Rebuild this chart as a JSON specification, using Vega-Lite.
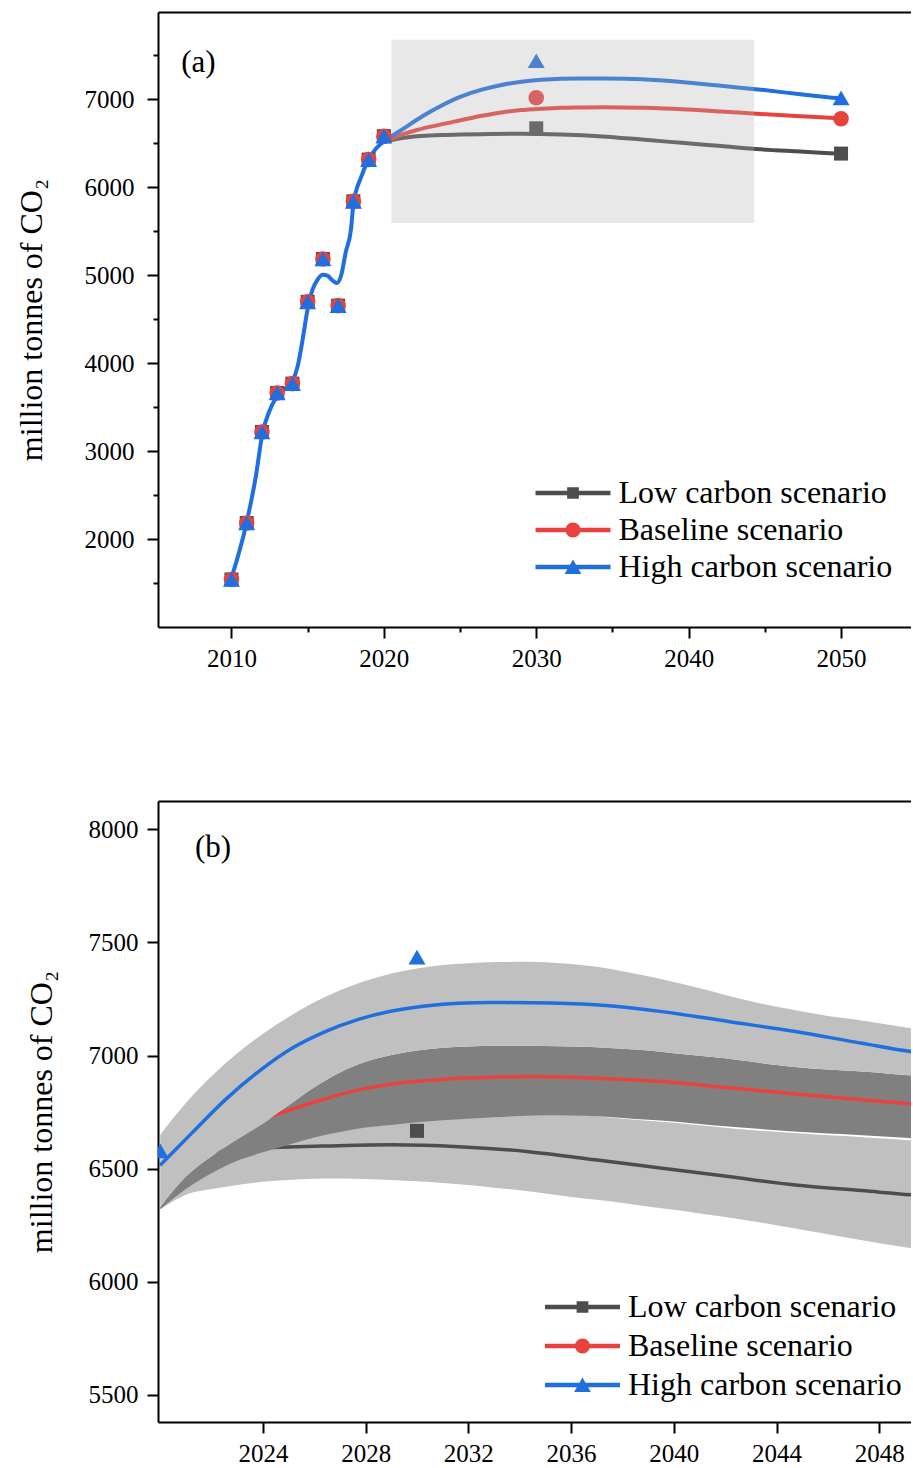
{
  "$schema": "https://vega.github.io/schema/vega-lite/v6.json",
  "padding": {"left": 15, "top": 12, "right": 0, "bottom": 0},
  "spacing": 130,
  "resolve": {"scale": {"color": "independent", "shape": "independent", "size": "independent"}},
  "config": {
    "font": "Liberation Serif",
    "view": {"stroke": null},
    "axis": {
      "domainColor": "black", "domainWidth": 2, "tickColor": "black", "tickWidth": 2, "tickSize": 11,
      "labelFont": "Liberation Serif", "labelFontSize": 25, "labelColor": "black",
      "titleFont": "Liberation Serif", "titleFontSize": 32, "titleFontWeight": "normal", "titleColor": "black",
      "grid": false, "labelFlush": false, "labelOverlap": false, "labelPadding": 8
    },
    "legend": {
      "title": null, "symbolSize": 5625, "symbolStrokeWidth": 0, "symbolOpacity": 1,
      "labelFont": "Liberation Serif", "labelFontSize": 32, "labelColor": "black", "labelOffset": 8,
      "labelLimit": 500, "padding": 0
    }
  },
  "datasets": {
    "curves": [
      {"scenario": "Low carbon scenario", "year": 2020, "value": 6515},
      {"scenario": "Low carbon scenario", "year": 2021, "value": 6552},
      {"scenario": "Low carbon scenario", "year": 2022, "value": 6574},
      {"scenario": "Low carbon scenario", "year": 2023, "value": 6586},
      {"scenario": "Low carbon scenario", "year": 2024, "value": 6592},
      {"scenario": "Low carbon scenario", "year": 2025, "value": 6596},
      {"scenario": "Low carbon scenario", "year": 2026.43, "value": 6600},
      {"scenario": "Low carbon scenario", "year": 2029.02, "value": 6605},
      {"scenario": "Low carbon scenario", "year": 2031.62, "value": 6597},
      {"scenario": "Low carbon scenario", "year": 2034.34, "value": 6575},
      {"scenario": "Low carbon scenario", "year": 2036.94, "value": 6539},
      {"scenario": "Low carbon scenario", "year": 2039.54, "value": 6502},
      {"scenario": "Low carbon scenario", "year": 2042.13, "value": 6465},
      {"scenario": "Low carbon scenario", "year": 2044.73, "value": 6428},
      {"scenario": "Low carbon scenario", "year": 2047.33, "value": 6403},
      {"scenario": "Low carbon scenario", "year": 2049.26, "value": 6384},
      {"scenario": "Low carbon scenario", "year": 2050, "value": 6378},
      {"scenario": "Baseline scenario", "year": 2020, "value": 6515},
      {"scenario": "Baseline scenario", "year": 2021, "value": 6585},
      {"scenario": "Baseline scenario", "year": 2022, "value": 6640},
      {"scenario": "Baseline scenario", "year": 2023, "value": 6683},
      {"scenario": "Baseline scenario", "year": 2024, "value": 6720},
      {"scenario": "Baseline scenario", "year": 2024.61, "value": 6743},
      {"scenario": "Baseline scenario", "year": 2026.43, "value": 6809},
      {"scenario": "Baseline scenario", "year": 2027.72, "value": 6848},
      {"scenario": "Baseline scenario", "year": 2029.02, "value": 6874},
      {"scenario": "Baseline scenario", "year": 2030.32, "value": 6889},
      {"scenario": "Baseline scenario", "year": 2031.62, "value": 6900},
      {"scenario": "Baseline scenario", "year": 2032.91, "value": 6904},
      {"scenario": "Baseline scenario", "year": 2034.5, "value": 6907},
      {"scenario": "Baseline scenario", "year": 2036.94, "value": 6900},
      {"scenario": "Baseline scenario", "year": 2039.54, "value": 6885},
      {"scenario": "Baseline scenario", "year": 2042.13, "value": 6858},
      {"scenario": "Baseline scenario", "year": 2044.73, "value": 6830},
      {"scenario": "Baseline scenario", "year": 2047.33, "value": 6804},
      {"scenario": "Baseline scenario", "year": 2049.26, "value": 6786},
      {"scenario": "Baseline scenario", "year": 2050, "value": 6778},
      {"scenario": "High carbon scenario", "year": 2010, "value": 1555},
      {"scenario": "High carbon scenario", "year": 2011, "value": 2190},
      {"scenario": "High carbon scenario", "year": 2011.6, "value": 2712},
      {"scenario": "High carbon scenario", "year": 2012.04, "value": 3205},
      {"scenario": "High carbon scenario", "year": 2012.48, "value": 3450},
      {"scenario": "High carbon scenario", "year": 2012.92, "value": 3602},
      {"scenario": "High carbon scenario", "year": 2013.46, "value": 3697},
      {"scenario": "High carbon scenario", "year": 2014.0, "value": 3791},
      {"scenario": "High carbon scenario", "year": 2014.34, "value": 3961},
      {"scenario": "High carbon scenario", "year": 2014.67, "value": 4265},
      {"scenario": "High carbon scenario", "year": 2014.99, "value": 4606},
      {"scenario": "High carbon scenario", "year": 2015.32, "value": 4833},
      {"scenario": "High carbon scenario", "year": 2015.65, "value": 4947},
      {"scenario": "High carbon scenario", "year": 2015.98, "value": 5003},
      {"scenario": "High carbon scenario", "year": 2016.3, "value": 4992},
      {"scenario": "High carbon scenario", "year": 2016.63, "value": 4939},
      {"scenario": "High carbon scenario", "year": 2016.9, "value": 4909},
      {"scenario": "High carbon scenario", "year": 2017.18, "value": 4984},
      {"scenario": "High carbon scenario", "year": 2017.51, "value": 5268},
      {"scenario": "High carbon scenario", "year": 2017.84, "value": 5515},
      {"scenario": "High carbon scenario", "year": 2018.0, "value": 5800},
      {"scenario": "High carbon scenario", "year": 2018.5, "value": 6110},
      {"scenario": "High carbon scenario", "year": 2019.0, "value": 6310},
      {"scenario": "High carbon scenario", "year": 2019.5, "value": 6440},
      {"scenario": "High carbon scenario", "year": 2020, "value": 6515},
      {"scenario": "High carbon scenario", "year": 2021.23, "value": 6657},
      {"scenario": "High carbon scenario", "year": 2022.53, "value": 6804},
      {"scenario": "High carbon scenario", "year": 2023.83, "value": 6929},
      {"scenario": "High carbon scenario", "year": 2025.13, "value": 7032},
      {"scenario": "High carbon scenario", "year": 2026.43, "value": 7106},
      {"scenario": "High carbon scenario", "year": 2027.72, "value": 7160},
      {"scenario": "High carbon scenario", "year": 2029.02, "value": 7197},
      {"scenario": "High carbon scenario", "year": 2030.32, "value": 7219},
      {"scenario": "High carbon scenario", "year": 2031.62, "value": 7231},
      {"scenario": "High carbon scenario", "year": 2032.91, "value": 7234},
      {"scenario": "High carbon scenario", "year": 2034.5, "value": 7233},
      {"scenario": "High carbon scenario", "year": 2036.94, "value": 7224},
      {"scenario": "High carbon scenario", "year": 2039.54, "value": 7194},
      {"scenario": "High carbon scenario", "year": 2042.13, "value": 7150},
      {"scenario": "High carbon scenario", "year": 2044.73, "value": 7106},
      {"scenario": "High carbon scenario", "year": 2047.33, "value": 7054},
      {"scenario": "High carbon scenario", "year": 2049.26, "value": 7017},
      {"scenario": "High carbon scenario", "year": 2050, "value": 7008}
    ],
    "markers": [
      {"scenario": "Low carbon scenario", "year": 2010, "value": 1540},
      {"scenario": "Low carbon scenario", "year": 2011, "value": 2182},
      {"scenario": "Low carbon scenario", "year": 2012, "value": 3216},
      {"scenario": "Low carbon scenario", "year": 2013, "value": 3660},
      {"scenario": "Low carbon scenario", "year": 2014, "value": 3766},
      {"scenario": "Low carbon scenario", "year": 2015, "value": 4695},
      {"scenario": "Low carbon scenario", "year": 2016, "value": 5182},
      {"scenario": "Low carbon scenario", "year": 2017, "value": 4652},
      {"scenario": "Low carbon scenario", "year": 2018, "value": 5838},
      {"scenario": "Low carbon scenario", "year": 2019, "value": 6312},
      {"scenario": "Low carbon scenario", "year": 2020, "value": 6578},
      {"scenario": "Low carbon scenario", "year": 2030, "value": 6667},
      {"scenario": "Low carbon scenario", "year": 2050, "value": 6380},
      {"scenario": "Baseline scenario", "year": 2010, "value": 1540},
      {"scenario": "Baseline scenario", "year": 2011, "value": 2182},
      {"scenario": "Baseline scenario", "year": 2012, "value": 3216},
      {"scenario": "Baseline scenario", "year": 2013, "value": 3660},
      {"scenario": "Baseline scenario", "year": 2014, "value": 3766},
      {"scenario": "Baseline scenario", "year": 2015, "value": 4695},
      {"scenario": "Baseline scenario", "year": 2016, "value": 5182},
      {"scenario": "Baseline scenario", "year": 2017, "value": 4652},
      {"scenario": "Baseline scenario", "year": 2018, "value": 5838},
      {"scenario": "Baseline scenario", "year": 2019, "value": 6312},
      {"scenario": "Baseline scenario", "year": 2020, "value": 6578},
      {"scenario": "Baseline scenario", "year": 2030, "value": 7014},
      {"scenario": "Baseline scenario", "year": 2050, "value": 6776},
      {"scenario": "High carbon scenario", "year": 2010, "value": 1540},
      {"scenario": "High carbon scenario", "year": 2011, "value": 2182},
      {"scenario": "High carbon scenario", "year": 2012, "value": 3216},
      {"scenario": "High carbon scenario", "year": 2013, "value": 3660},
      {"scenario": "High carbon scenario", "year": 2014, "value": 3766},
      {"scenario": "High carbon scenario", "year": 2015, "value": 4695},
      {"scenario": "High carbon scenario", "year": 2016, "value": 5182},
      {"scenario": "High carbon scenario", "year": 2017, "value": 4652},
      {"scenario": "High carbon scenario", "year": 2018, "value": 5838},
      {"scenario": "High carbon scenario", "year": 2019, "value": 6312},
      {"scenario": "High carbon scenario", "year": 2020, "value": 6578},
      {"scenario": "High carbon scenario", "year": 2030, "value": 7435},
      {"scenario": "High carbon scenario", "year": 2050, "value": 7012}
    ],
    "bands": [
      {"year": 2020, "lower": 6320, "low_top": 6330, "dark_lo": 6320, "dark_hi": 6330, "upper": 6650},
      {"year": 2021, "lower": 6385, "low_top": 6420, "dark_lo": 6410, "dark_hi": 6465, "upper": 6790},
      {"year": 2022, "lower": 6410, "low_top": 6490, "dark_lo": 6480, "dark_hi": 6555, "upper": 6908},
      {"year": 2023, "lower": 6428, "low_top": 6545, "dark_lo": 6535, "dark_hi": 6630, "upper": 7010},
      {"year": 2024, "lower": 6442, "low_top": 6582, "dark_lo": 6572, "dark_hi": 6700, "upper": 7096},
      {"year": 2025, "lower": 6450, "low_top": 6616, "dark_lo": 6606, "dark_hi": 6780, "upper": 7170},
      {"year": 2026, "lower": 6455, "low_top": 6648, "dark_lo": 6638, "dark_hi": 6860, "upper": 7235},
      {"year": 2027, "lower": 6456, "low_top": 6672, "dark_lo": 6662, "dark_hi": 6925, "upper": 7288},
      {"year": 2028, "lower": 6454, "low_top": 6692, "dark_lo": 6682, "dark_hi": 6972, "upper": 7330},
      {"year": 2029, "lower": 6450, "low_top": 6703, "dark_lo": 6693, "dark_hi": 7002, "upper": 7363},
      {"year": 2030, "lower": 6444, "low_top": 6715, "dark_lo": 6705, "dark_hi": 7022, "upper": 7385},
      {"year": 2031, "lower": 6437, "low_top": 6724, "dark_lo": 6714, "dark_hi": 7034, "upper": 7400},
      {"year": 2032, "lower": 6428, "low_top": 6731, "dark_lo": 6721, "dark_hi": 7040, "upper": 7408},
      {"year": 2033, "lower": 6416, "low_top": 6737, "dark_lo": 6727, "dark_hi": 7043, "upper": 7413},
      {"year": 2034, "lower": 6404, "low_top": 6743, "dark_lo": 6733, "dark_hi": 7043, "upper": 7414},
      {"year": 2035, "lower": 6390, "low_top": 6744, "dark_lo": 6736, "dark_hi": 7042, "upper": 7412},
      {"year": 2036, "lower": 6375, "low_top": 6738, "dark_lo": 6735, "dark_hi": 7040, "upper": 7404},
      {"year": 2037, "lower": 6362, "low_top": 6732, "dark_lo": 6732, "dark_hi": 7037, "upper": 7392},
      {"year": 2038, "lower": 6348, "low_top": 6721, "dark_lo": 6724, "dark_hi": 7030, "upper": 7372},
      {"year": 2039, "lower": 6333, "low_top": 6712, "dark_lo": 6716, "dark_hi": 7022, "upper": 7350},
      {"year": 2040, "lower": 6318, "low_top": 6703, "dark_lo": 6708, "dark_hi": 7010, "upper": 7325},
      {"year": 2041, "lower": 6302, "low_top": 6692, "dark_lo": 6697, "dark_hi": 6999, "upper": 7297},
      {"year": 2042, "lower": 6286, "low_top": 6681, "dark_lo": 6687, "dark_hi": 6988, "upper": 7268},
      {"year": 2043, "lower": 6268, "low_top": 6671, "dark_lo": 6678, "dark_hi": 6973, "upper": 7240},
      {"year": 2044, "lower": 6250, "low_top": 6663, "dark_lo": 6670, "dark_hi": 6958, "upper": 7215},
      {"year": 2045, "lower": 6230, "low_top": 6655, "dark_lo": 6662, "dark_hi": 6946, "upper": 7195},
      {"year": 2046, "lower": 6210, "low_top": 6647, "dark_lo": 6655, "dark_hi": 6938, "upper": 7175},
      {"year": 2047, "lower": 6190, "low_top": 6642, "dark_lo": 6650, "dark_hi": 6932, "upper": 7160},
      {"year": 2048, "lower": 6170, "low_top": 6634, "dark_lo": 6643, "dark_hi": 6924, "upper": 7143},
      {"year": 2049, "lower": 6152, "low_top": 6627, "dark_lo": 6636, "dark_hi": 6914, "upper": 7125},
      {"year": 2050, "lower": 6138, "low_top": 6620, "dark_lo": 6630, "dark_hi": 6908, "upper": 7108}
    ]
  },
  "vconcat": [
    {
      "width": 753,
      "height": 615,
      "layer": [
        {
          "data": {"name": "curves"},
          "transform": [{"filter": "datum.scenario === 'Low carbon scenario'"}],
          "mark": {"type": "line", "interpolate": "monotone", "strokeWidth": 4, "color": "#4d4d4d"},
          "encoding": {
            "x": {"field": "year", "type": "quantitative",
              "scale": {"domain": [2005.18, 2054.59], "nice": false, "zero": false},
              "axis": {"orient": "bottom", "values": [2010, 2015, 2020, 2025, 2030, 2035, 2040, 2045, 2050],
                "tickSize": {"condition": {"test": "datum.value % 10 === 0", "value": 11}, "value": 5},
                "labelExpr": "datum.value % 10 === 0 ? '' + datum.value : ''", "title": null}},
            "y": {"field": "value", "type": "quantitative",
              "scale": {"domain": [1000, 7989], "nice": false, "zero": false},
              "axis": {"orient": "left", "values": [1500, 2000, 2500, 3000, 3500, 4000, 4500, 5000, 5500, 6000, 6500, 7000, 7500],
                "tickSize": {"condition": {"test": "datum.value % 1000 === 0", "value": 11}, "value": 5},
                "labelExpr": "datum.value % 1000 === 0 ? '' + datum.value : ''",
                "title": "million tonnes of CO₂", "titlePadding": 36, "labelPadding": 13}}
          }
        },
        {
          "data": {"name": "curves"},
          "transform": [{"filter": "datum.scenario === 'Baseline scenario'"}],
          "mark": {"type": "line", "interpolate": "monotone", "strokeWidth": 4, "color": "#e8423f"},
          "encoding": {
            "x": {"field": "year", "type": "quantitative", "axis": null},
            "y": {"field": "value", "type": "quantitative"}
          }
        },
        {
          "data": {"name": "curves"},
          "transform": [{"filter": "datum.scenario === 'High carbon scenario'"}],
          "mark": {"type": "line", "interpolate": "monotone", "strokeWidth": 4, "color": "#1f6fde"},
          "encoding": {
            "x": {"field": "year", "type": "quantitative", "axis": null},
            "y": {"field": "value", "type": "quantitative"}
          }
        },
        {
          "data": {"name": "markers"},
          "mark": {"type": "point", "filled": true, "opacity": 1},
          "encoding": {
            "x": {"field": "year", "type": "quantitative",
              "axis": {"orient": "top", "domain": true, "ticks": false, "labels": false, "title": null}},
            "y": {"field": "value", "type": "quantitative"},
            "color": {"field": "scenario", "type": "nominal",
              "scale": {"domain": ["Low carbon scenario", "Baseline scenario", "High carbon scenario"], "range": ["#4d4d4d", "#e8423f", "#1f6fde"]},
              "legend": {"orient": "none", "legendX": 377.5, "legendY": 462, "rowPadding": 2,
                "encode": {
                  "symbols": {"update": {"y": {"value": 19}, "shape": {"signal": "datum.value === 'Low carbon scenario' ? 'M-1,-0.057H1V0.057H-1Z M-0.156,-0.156H0.156V0.156H-0.156Z' : datum.value === 'Baseline scenario' ? 'M-1,-0.057H1V0.057H-1Z M-0.2,0A0.2,0.2,0,1,1,0.2,0A0.2,0.2,0,1,1,-0.2,0Z' : 'M-1,-0.057H1V0.057H-1Z M0,-0.2L0.223,0.186L-0.223,0.186Z'"}}},
                  "labels": {"update": {"y": {"value": 19}}}}}},
            "shape": {"field": "scenario", "type": "nominal",
              "scale": {"domain": ["High carbon scenario", "Baseline scenario", "Low carbon scenario"], "range": ["triangle-up", "circle", "square"]},
              "legend": null},
            "size": {"field": "scenario", "type": "nominal",
              "scale": {"domain": ["High carbon scenario", "Baseline scenario", "Low carbon scenario"], "range": [289, 196, 144]},
              "legend": null}
          }
        },
        {
          "data": {"values": [{}]},
          "mark": {"type": "rect", "fill": "#b3b3b3", "opacity": 0.3},
          "encoding": {
            "x": {"datum": 2020.5, "type": "quantitative", "axis": null},
            "x2": {"datum": 2044.3},
            "y": {"datum": 7675, "type": "quantitative"},
            "y2": {"datum": 5590}
          }
        },
        {
          "data": {"values": [{}]},
          "mark": {"type": "text", "text": "(a)", "align": "left", "baseline": "middle", "fontSize": 31, "font": "Liberation Serif", "color": "black"},
          "encoding": {
            "x": {"datum": 2006.7, "type": "quantitative", "axis": null},
            "y": {"datum": 7415, "type": "quantitative"}
          }
        }
      ],
      "resolve": {"axis": {"x": "independent"}}
    },
    {
      "width": 753,
      "height": 621,
      "layer": [
        {
          "data": {"name": "bands"},
          "mark": {"type": "area", "interpolate": "monotone", "color": "#c0c0c0", "clip": true},
          "encoding": {
            "x": {"field": "year", "type": "quantitative",
              "scale": {"domain": [2019.914, 2049.236], "nice": false, "zero": false},
              "axis": {"orient": "bottom", "values": [2024, 2028, 2032, 2036, 2040, 2044, 2048], "format": "d", "title": null}},
            "y": {"field": "lower", "type": "quantitative",
              "scale": {"domain": [5380, 8125], "nice": false, "zero": false},
              "axis": {"orient": "left", "values": [5500, 6000, 6500, 7000, 7500, 8000], "format": "d",
                "title": "million tonnes of CO₂", "titlePadding": 30, "labelPadding": 9}},
            "y2": {"field": "low_top"}
          }
        },
        {
          "data": {"name": "curves"},
          "transform": [{"filter": "datum.scenario === 'Low carbon scenario'"}],
          "mark": {"type": "line", "interpolate": "monotone", "strokeWidth": 3.5, "clip": true, "color": "#4d4d4d"},
          "encoding": {
            "x": {"field": "year", "type": "quantitative", "axis": null},
            "y": {"field": "value", "type": "quantitative"}
          }
        },
        {
          "data": {"name": "bands"},
          "mark": {"type": "area", "interpolate": "monotone", "color": "#808080", "clip": true},
          "encoding": {
            "x": {"field": "year", "type": "quantitative", "axis": null},
            "y": {"field": "dark_lo", "type": "quantitative"},
            "y2": {"field": "dark_hi"}
          }
        },
        {
          "data": {"name": "curves"},
          "transform": [{"filter": "datum.scenario === 'Baseline scenario'"}],
          "mark": {"type": "line", "interpolate": "monotone", "strokeWidth": 3.5, "clip": true, "color": "#e8423f"},
          "encoding": {
            "x": {"field": "year", "type": "quantitative", "axis": null},
            "y": {"field": "value", "type": "quantitative"}
          }
        },
        {
          "data": {"name": "bands"},
          "mark": {"type": "area", "interpolate": "monotone", "color": "#c0c0c0", "clip": true},
          "encoding": {
            "x": {"field": "year", "type": "quantitative", "axis": null},
            "y": {"field": "dark_hi", "type": "quantitative"},
            "y2": {"field": "upper"}
          }
        },
        {
          "data": {"name": "curves"},
          "transform": [{"filter": "datum.scenario === 'High carbon scenario' && datum.year >= 2020"}],
          "mark": {"type": "line", "interpolate": "monotone", "strokeWidth": 3.5, "clip": true, "color": "#1f6fde"},
          "encoding": {
            "x": {"field": "year", "type": "quantitative", "axis": null},
            "y": {"field": "value", "type": "quantitative"}
          }
        },
        {
          "data": {"name": "markers"},
          "transform": [{"filter": "datum.year >= 2020 && datum.scenario !== 'Baseline scenario' && !(datum.year === 2020 && datum.scenario === 'Low carbon scenario')"}],
          "mark": {"type": "point", "filled": true, "opacity": 1, "clip": true},
          "encoding": {
            "x": {"field": "year", "type": "quantitative",
              "axis": {"orient": "top", "domain": true, "ticks": false, "labels": false, "title": null}},
            "y": {"field": "value", "type": "quantitative"},
            "color": {"field": "scenario", "type": "nominal",
              "scale": {"domain": ["Low carbon scenario", "Baseline scenario", "High carbon scenario"], "range": ["#4d4d4d", "#e8423f", "#1f6fde"]},
              "legend": {"orient": "none", "legendX": 387, "legendY": 487, "rowPadding": 4,
                "encode": {
                  "symbols": {"update": {"y": {"value": 19}, "shape": {"signal": "datum.value === 'Low carbon scenario' ? 'M-1,-0.057H1V0.057H-1Z M-0.156,-0.156H0.156V0.156H-0.156Z' : datum.value === 'Baseline scenario' ? 'M-1,-0.057H1V0.057H-1Z M-0.2,0A0.2,0.2,0,1,1,0.2,0A0.2,0.2,0,1,1,-0.2,0Z' : 'M-1,-0.057H1V0.057H-1Z M0,-0.2L0.223,0.186L-0.223,0.186Z'"}}},
                  "labels": {"update": {"y": {"value": 19}}}}}},
            "shape": {"field": "scenario", "type": "nominal",
              "scale": {"domain": ["High carbon scenario", "Baseline scenario", "Low carbon scenario"], "range": ["triangle-up", "circle", "square"]},
              "legend": null},
            "size": {"field": "scenario", "type": "nominal",
              "scale": {"domain": ["High carbon scenario", "Baseline scenario", "Low carbon scenario"], "range": [289, 196, 144]},
              "legend": null}
          }
        },
        {
          "data": {"values": [{}]},
          "mark": {"type": "text", "text": "(b)", "align": "left", "baseline": "middle", "fontSize": 31, "font": "Liberation Serif", "color": "black"},
          "encoding": {
            "x": {"datum": 2021.35, "type": "quantitative", "axis": null},
            "y": {"datum": 7917, "type": "quantitative"}
          }
        }
      ],
      "resolve": {"axis": {"x": "independent"}}
    }
  ]
}
